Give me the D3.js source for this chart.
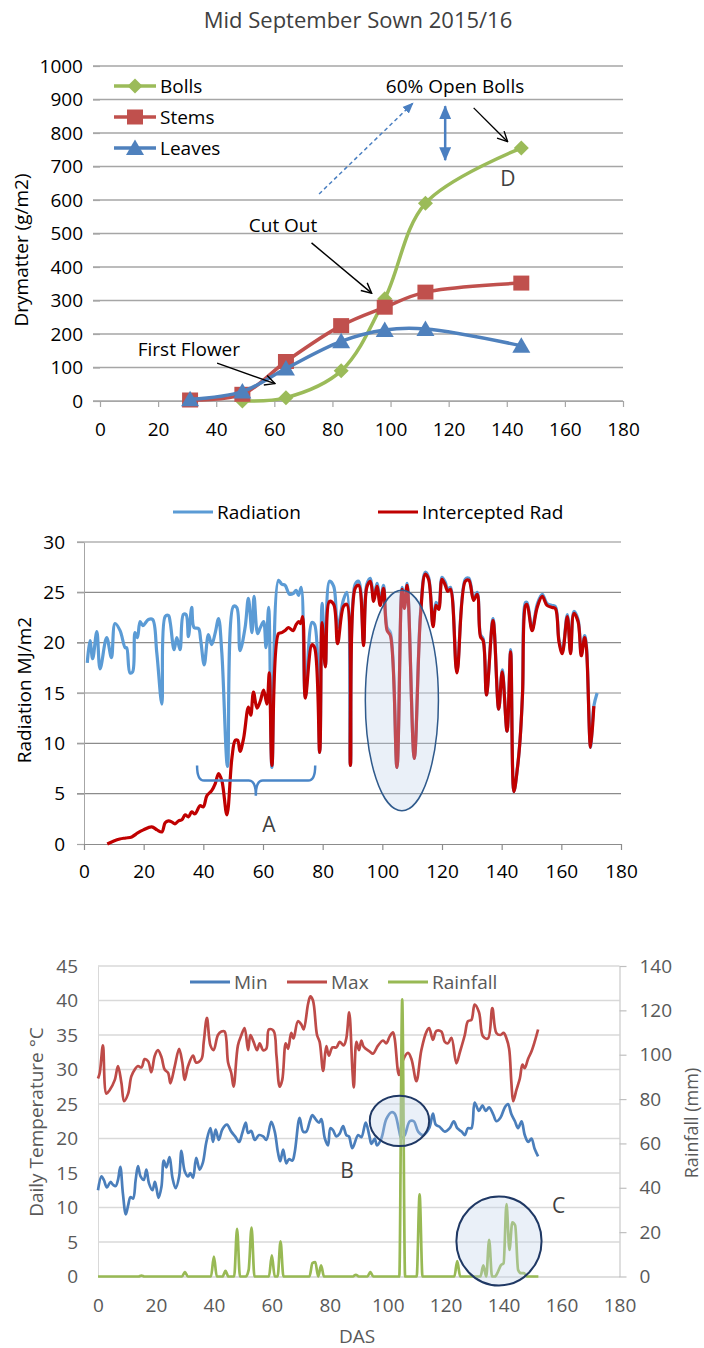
<!DOCTYPE html>
<html>
<head>
<meta charset="utf-8">
<script src="https://cdn.jsdelivr.net/npm/d3@7"></script>
<style>
  body { margin: 0; background: #fff; }
  svg text { font-family: "Open Sans", sans-serif; }
</style>
</head>
<body>
<svg id="chart" width="704" height="1348"></svg>
<script>
// ---------- Panel 1: dry matter partitioning ----------
const harvestDays = [31, 49, 64, 83, 98, 112, 145];
const bolls  = [null, 0, 10, 90, 305, 590, 755];
const stems  = [3, 20, 118, 225, 280, 325, 352];
const leaves = [5, 28, 97, 178, 212, 215, 165];
const dmTicks = d3.range(0, 1001, 100);
const dasTicks = d3.range(0, 181, 20);

// ---------- Panel 2: daily radiation (day, MJ/m2) ----------
const radiation = [
  [1.1,18],[2,20.2],[2.9,18.4],[4.3,21.1],[5.4,17.4],[7.6,20.5],[9.2,18.5],[10.4,21.9],[12.1,21.2],
  [13.8,19.5],[14.3,19.5],[15.4,17],[16.3,17.1],[17.1,21],[17.9,20.5],[18.8,22.1],[19.7,21.7],
  [21.6,22.3],[23,22.3],[24.4,19],[26.1,13.9],[27.2,22.6],[28.3,22.7],[28.9,22],[30.2,19.3],
  [31.1,20.5],[32.2,19.3],[33.3,22.8],[34.2,22.8],[35,20.6],[36.1,23.5],[36.9,21.5],[38.4,21.4],
  [39.1,20.3],[40.3,17.8],[41.7,20.8],[42.8,19.8],[44,21],[45.1,22.4],[46.2,19],[48.1,7.7],
  [50.1,23.6],[51.2,23.5],[52.3,19.2],[54,21.5],[55.1,24.4],[56.3,21],[57,24.6],[58.2,20.9],
  [59.1,21.5],[60.2,22.1],[61,19.5],[61.9,23.5],[63,7.6],[65.2,26.2],[66.3,25.8],[67.4,25.7],
  [68.9,24.8],[70.2,24.9],[71.1,25.2],[71.9,24.7],[72.8,25.5],[74.2,14.6],[76.4,22],[77.3,21.8],
  [79,9.1],[79.8,23.9],[80.9,17.7],[82.3,26.1],[83.7,25.6],[85,21.5],[87,24.3],[88.1,25],
  [89.3,7.8],[90.9,25.8],[92.1,26.1],[93.7,20],[94.8,25.8],[96,26.4],[97.1,24.4],[98.2,25.9],
  [99.3,24],[100.4,25.7],[101.6,21.5],[102.7,21],[104.9,7.6],[106.6,25.5],[107.4,23.6],[108.3,25.9],
  [110.7,8.5],[112.8,23],[114.4,27],[115.5,26.5],[117,21.8],[118,24],[118.9,23.6],[120,26.5],
  [121.1,26],[121.9,25.3],[122.8,25.5],[125,17.2],[127.8,26.3],[129,26.4],[130.6,24.4],[131.8,25],
  [132.9,20.8],[133.8,20.4],[134.9,14.8],[137.1,22.4],[139,13.4],[140.2,17.3],[141.8,11.2],[143,19.3],
  [144.1,5.2],[145.3,7.6],[146.2,10.5],[147,15],[148,24],[148.5,24],[150.2,21.4],[151.9,23.8],
  [153.6,24.8],[155.2,23.9],[156.9,23.7],[158,23.6],[159.2,20.3],[160.3,19.1],[162,22.8],[163.1,19.1],
  [164.2,23.1],[165.6,22.3],[166.7,18.9],[167.8,20.7],[168.4,19.7],[169.8,9.6],[170.9,13.7],[172,15]
];
const intercepted = [
  [7.8,0],[10,0.3],[12,0.5],[14,0.6],[16,0.7],[18,1.1],[19.9,1.4],[22.7,1.7],[24.5,1.4],[26.1,1.2],
  [27.2,2.1],[28.3,2.3],[29.4,2.2],[30.5,2],[31.7,2.3],[32.8,2.4],[33.9,2.9],[35,2.7],[36.1,3.2],
  [37.2,3],[38.9,3.8],[40,3.7],[41.2,4.8],[42.8,5.3],[44,6],[45.1,7],[46.2,6.3],[47.9,2.9],
  [49.6,8.6],[50.7,10.3],[51.5,10.3],[52.3,9.2],[53.5,10.5],[55.1,13.6],[55.9,12.8],[56.8,15.1],
  [58,13.5],[59.1,14.2],[60.2,15.3],[61.3,13.9],[62.1,17],[63,7.8],[65.2,20.9],[66.3,21],[67.4,21.2],
  [68.5,21.5],[70.1,21.2],[71.1,21.8],[72,22.1],[72.6,21.9],[73.3,22.6],[74.2,14.5],[76.4,19.8],
  [77.3,19.5],[79,9.1],[79.8,22],[80.9,17.6],[82.3,24.1],[83.7,23.8],[85,19.9],[87,23.6],[88.1,23.8],
  [89.3,7.8],[90.9,25.4],[92.1,25.7],[93.7,19.7],[94.8,25.5],[96,26.1],[97.1,24.1],[98.2,25.6],
  [99.3,23.7],[100.4,25.4],[101.6,21.2],[102.7,20.7],[104.9,7.6],[106.6,25.3],[107.4,23.4],[108.3,25.7],
  [110.7,8.5],[112.8,22.7],[114.4,26.8],[115.5,26.3],[117,21.6],[118,23.7],[118.9,23.3],[120,26.3],
  [121.1,25.7],[121.9,25.1],[122.8,25.3],[125,17],[127.8,26.1],[129,26.2],[130.6,24.2],[131.8,24.8],
  [132.9,20.6],[133.8,20.2],[134.9,14.8],[137.1,22.2],[139,13.4],[140.2,17.1],[141.8,11.2],[143,19.1],
  [144.1,5.2],[145.3,7.6],[146.2,10.5],[147,15],[148,23.7],[148.5,23.8],[150.2,21.2],[151.9,23.5],
  [153.6,24.6],[155.2,23.7],[156.9,23.5],[158,23.4],[159.2,20.1],[160.3,18.9],[162,22.6],[163.1,18.9],
  [164.2,22.9],[165.6,22.1],[166.7,18.7],[167.8,20.5],[168.4,19.5],[169.8,9.6],[170.9,13.7]
];
const radTicks = d3.range(0, 31, 5);

// ---------- Panel 3: daily temperature (°C) and rainfall (mm) ----------
const minTemp = [
  [0,12.5],[1.2,14.5],[2,14],[3.1,12.9],[4.3,13.7],[5.2,13.3],[6.1,13.1],[6.9,14],[7.7,15.9],[8.6,12],
  [9.6,9],[10.4,10.3],[11.2,11.5],[12.1,11.3],[13,14],[13.8,16],[14.7,14.5],[15.8,14],[16.7,15.5],
  [17.6,13.5],[18.8,12.5],[19.6,13.7],[20.1,13],[20.9,11.4],[21.9,13],[22.7,16.8],[23.6,15.8],
  [24.7,17.3],[25.7,14.3],[26.8,12.8],[28,14.5],[28.8,18.2],[29.9,15.3],[31.1,14.5],[31.9,15],
  [32.8,14.3],[33.9,17.2],[35.1,15.5],[36.2,16.5],[37.4,19.5],[38.8,21.5],[39.7,19.5],[40.6,21.3],
  [41.7,19.8],[42.9,21.3],[44.5,22],[46,21],[47.5,20.2],[48.7,19.5],[49.8,20.8],[51,22.3],[51.8,20.8],
  [52.9,21.1],[54.1,19.8],[55.6,20.5],[57,20.3],[58.1,19.8],[59.8,22.4],[61,21],[62.1,18],[62.9,16.7],
  [63.9,18.4],[65,16.4],[65.9,17],[67.1,16.8],[67.9,18],[69.6,23],[70.8,21],[71.9,21],[73.1,22.5],
  [74,23.4],[75.1,22.8],[76.3,22.3],[77.1,22.8],[78.3,20],[79.4,19],[80.2,21.5],[81.1,21.2],[82.3,20.3],
  [83.4,20.7],[84.6,21.8],[85.7,20.5],[86.6,20.3],[87.8,18.6],[89.8,20.5],[90.9,20.2],[92.4,22.3],
  [93.6,20.5],[94.4,19.2],[95.5,20],[96.3,19],[97.8,20],[99.5,22.8],[101.3,23.8],[102.4,23.6],
  [103.9,21.2],[104.7,20],[105.9,20.5],[107.6,22.5],[109,22.5],[110.5,21],[112.2,20.5],[114.3,21.5],
  [115.6,23.6],[116.6,22],[117.9,21.7],[119.7,21],[121.4,21.5],[122.8,22.5],[124,21.5],[125.5,21],
  [126.6,20.5],[127.7,21.5],[128.9,21.5],[130,25.2],[131.5,24],[132.7,24.8],[133.8,24],[135,24.5],
  [136.4,23.5],[137.5,22.5],[138.9,23],[140.4,24.5],[141.5,25],[142.7,23.5],[143.9,22.5],[145,21.5],
  [146.2,22.5],[147.3,20.5],[148.5,19.5],[149.6,20],[150.7,18.5],[151.9,17.4]
];
const maxTemp = [
  [0,28.7],[0.6,29.5],[1.7,33.5],[2.9,26.5],[4,27],[5.8,28.5],[6.9,30.5],[8.1,28],[9,25.4],[10.4,26.5],
  [11.5,29],[12.7,30],[13.8,30.5],[15,30.3],[16.1,31.5],[17.3,31.2],[18.4,29.6],[19.6,32],[20.7,32.8],
  [21.9,31.8],[23,30],[24.2,29.5],[25,28],[26.5,30.5],[28,33],[29.1,31],[29.9,28.5],[31.1,30.5],
  [32.8,32],[33.9,31],[35.7,31.5],[36.5,34],[37.6,37.5],[38.8,33.5],[39.9,32.8],[41.4,35],[42.6,35.5],
  [43.7,35.5],[44.9,31],[46,29.5],[46.8,27.5],[48.3,33.5],[49.5,35],[50.6,36],[51.8,32.8],[52.6,35],
  [53.7,34],[54.9,32.8],[55.8,33.8],[57,32.8],[58.1,33],[59,35.8],[60.6,35.6],[61.6,32],[62.7,27.5],
  [63.6,28.5],[64.8,33.8],[65.6,33],[66.7,35.3],[67.5,34.5],[69,37],[70.2,36.5],[71,35.8],[72.5,39.5],
  [73.3,40.6],[74.2,40],[75.6,35],[76.5,34],[77.7,29.8],[78.8,33.4],[79.7,32],[80.9,33.2],[82.3,33.2],
  [83.4,34],[84.8,33.5],[85.7,34.5],[86.7,38.3],[87.8,30],[88.3,27.4],[89.2,34],[90.1,32.8],[90.9,34.2],
  [91.7,33.3],[93.8,32.6],[94.9,32.3],[96.7,33.5],[98.4,34.2],[99.5,33.8],[100.7,34.8],[101.8,35.4],
  [102.4,34.5],[103.9,29.2],[105.3,31.4],[107,32.4],[108.2,31.5],[109.9,28.3],[111.6,32.8],[113.4,35.5],
  [114.3,36],[115.6,34.3],[116.8,35.6],[118.5,35.5],[119.7,34],[120.8,33.8],[122,34.6],[123.7,30.9],
  [124.9,32.5],[126.6,35],[127.7,37],[128.9,37.2],[130,39.4],[131.5,38.3],[132.9,34.8],[134.6,34.5],
  [136.1,38.9],[137.5,35.3],[138.9,35],[140,35.3],[141,34.5],[141.9,33],[142.7,28],[143.3,25.4],
  [144.4,27],[145.6,28.7],[146.5,30.7],[147.3,30.2],[148.4,31.5],[149.6,32.6],[150.7,34],[151.9,35.8]
];
const rainfall = [
  [0,0],[14,0],[15,0.4],[16,0],[29,0],[30,2],[31,0],[39,0],[40,9],[41,0],[43,0],[44,2.5],[45,0],
  [47,0],[48,21.5],[49,0],[51,0],[52,3],[53,22],[54,0],[59,0],[60,9.5],[61,0],[62,0],[63,15.8],[64,0],
  [73,0],[74,6],[75,6.5],[76,0],[77,5],[78,0],[88,0],[89,0.8],[90,0],[93,0],[94,2],[95,0],[104,0],
  [105,125],[106,0],[110,0],[111,37],[112,0],[123,0],[124,7],[125,0],[132,0],[133,5],[134,0],
  [135,16.5],[136,0],[137,0],[138,2],[139,5],[140,6],[141,32.6],[142,12],[143,24.4],[144,23],
  [145,3],[146,1.5],[147,1.5],[148,0],[152,0]
];
const tempTicks = d3.range(0, 46, 5);
const rainTicks = d3.range(0, 141, 20);

const FONT = '"Open Sans", sans-serif';
const FS = 19;
const svg = d3.select("#chart");
const defs = svg.append("defs");

// arrow heads
defs.append("marker").attr("id", "openHead")
  .attr("viewBox", "0 0 12 12").attr("refX", 11).attr("refY", 6)
  .attr("markerWidth", 12).attr("markerHeight", 12)
  .attr("markerUnits", "userSpaceOnUse").attr("orient", "auto")
  .append("path").attr("d", "M1,1 L11,6 L1,11")
  .attr("fill", "none").attr("stroke", "#000").attr("stroke-width", 1.4);
defs.append("marker").attr("id", "blueHead")
  .attr("viewBox", "0 0 12 10").attr("refX", 11).attr("refY", 5)
  .attr("markerWidth", 11).attr("markerHeight", 10)
  .attr("markerUnits", "userSpaceOnUse").attr("orient", "auto")
  .append("path").attr("d", "M0,0 L12,5 L0,10 Z").attr("fill", "#4a7fc1");
defs.append("marker").attr("id", "blueHeadBig")
  .attr("viewBox", "0 0 14 12").attr("refX", 13).attr("refY", 6)
  .attr("markerWidth", 14).attr("markerHeight", 12)
  .attr("markerUnits", "userSpaceOnUse").attr("orient", "auto-start-reverse")
  .append("path").attr("d", "M0,0 L14,6 L0,12 Z").attr("fill", "#4a7fc1");

function txt(g, x, y, s, opts = {}) {
  const t = g.append("text").attr("x", x).attr("y", y).text(s)
    .attr("font-size", opts.size || FS).attr("fill", opts.color || "#000")
    .attr("text-anchor", opts.anchor || "middle")
    .attr("dominant-baseline", opts.baseline || "central");
  if (opts.rotate) t.attr("transform", `rotate(${opts.rotate},${x},${y})`);
  return t;
}
function fixAxis(g, color, textColor) {
  g.attr("font-family", FONT).attr("font-size", FS);
  g.selectAll("path.domain").attr("stroke", color);
  g.selectAll(".tick line").attr("stroke", color).attr("stroke-width", 1.2);
  g.selectAll("text").attr("fill", textColor);
}
const intFmt = d3.format("d");

// ================= Panel 1 =================
{
  const x = d3.scaleLinear().domain([0, 180]).range([100, 623]);
  const y = d3.scaleLinear().domain([0, 1000]).range([401, 66]);
  const g = svg.append("g");
  const grid = "#a6a6a6";

  txt(g, 358, 19, "Mid September Sown 2015/16", { size: 22, color: "#404040" });

  g.append("g").selectAll("line").data(dmTicks).join("line")
    .attr("x1", x(0) - 7).attr("x2", x(180))
    .attr("y1", d => y(d)).attr("y2", d => y(d))
    .attr("stroke", grid).attr("stroke-width", 1.3);

  const ya = g.append("g").attr("transform", `translate(${x(0)},0)`)
    .call(d3.axisLeft(y).tickValues(dmTicks).tickFormat(intFmt).tickSize(7).tickPadding(10));
  ya.select("path.domain").remove();
  fixAxis(ya, grid, "#000");

  const xa = g.append("g").attr("transform", `translate(0,${y(0)})`)
    .call(d3.axisBottom(x).tickValues(dasTicks).tickFormat(intFmt).tickSize(6).tickPadding(16).tickSizeOuter(0));
  fixAxis(xa, grid, "#000");

  txt(g, 21, 250, "Drymatter (g/m2)", { rotate: -90 });

  const curve = d3.curveCatmullRom.alpha(0.5);
  const series = [
    { name: "Bolls", vals: bolls, color: "#9bbb59", shape: "diamond" },
    { name: "Stems", vals: stems, color: "#c0504d", shape: "square" },
    { name: "Leaves", vals: leaves, color: "#4f81bd", shape: "triangle" }
  ];
  const shapePath = {
    diamond: "M0,-7.5 L7.5,0 L0,7.5 L-7.5,0 Z",
    square: "M-8,-7.5 L8,-7.5 L8,7.5 L-8,7.5 Z",
    triangle: "M0,-8.5 L9,7 L-9,7 Z"
  };
  series.forEach(s => {
    const pts = harvestDays.map((d, i) => [d, s.vals[i]]).filter(p => p[1] != null);
    g.append("path").datum(pts)
      .attr("d", d3.line().x(p => x(p[0])).y(p => y(p[1])).curve(curve))
      .attr("fill", "none").attr("stroke", s.color).attr("stroke-width", 3.5);
    g.append("g").selectAll("path").data(pts).join("path")
      .attr("transform", p => `translate(${x(p[0])},${y(p[1])})`)
      .attr("d", shapePath[s.shape]).attr("fill", s.color);
  });

  // legend
  series.forEach((s, i) => {
    const ly = 86 + i * 31;
    g.append("line").attr("x1", 114).attr("x2", 156).attr("y1", ly).attr("y2", ly)
      .attr("stroke", s.color).attr("stroke-width", 3.5);
    g.append("path").attr("transform", `translate(135,${ly})`).attr("d", shapePath[s.shape]).attr("fill", s.color);
    txt(g, 160, ly, s.name, { anchor: "start" });
  });

  // annotations
  txt(g, x(122.2), y(940), "60% Open Bolls");
  g.append("line").attr("x1", x(75.4)).attr("y1", y(618)).attr("x2", x(107.7)).attr("y2", y(889))
    .attr("stroke", "#4a7fc1").attr("stroke-width", 1.5).attr("stroke-dasharray", "4,3")
    .attr("marker-end", "url(#blueHead)");
  g.append("line").attr("x1", x(118.8)).attr("y1", y(880)).attr("x2", x(118.8)).attr("y2", y(719))
    .attr("stroke", "#4a7fc1").attr("stroke-width", 2.5)
    .attr("marker-start", "url(#blueHeadBig)").attr("marker-end", "url(#blueHeadBig)");
  g.append("line").attr("x1", x(128.6)).attr("y1", y(875)).attr("x2", x(140.3)).attr("y2", y(774))
    .attr("stroke", "#000").attr("stroke-width", 1.4).attr("marker-end", "url(#openHead)");
  txt(g, x(140.4), y(665), "D", { size: 21, color: "#404040" });

  txt(g, x(63), y(526), "Cut Out");
  g.append("line").attr("x1", x(72.8)).attr("y1", y(472)).attr("x2", x(93.5)).attr("y2", y(322))
    .attr("stroke", "#000").attr("stroke-width", 1.4).attr("marker-end", "url(#openHead)");

  txt(g, x(30.6), y(155), "First Flower");
  g.append("line").attr("x1", x(40.3)).attr("y1", y(113)).attr("x2", x(60.2)).attr("y2", y(52))
    .attr("stroke", "#000").attr("stroke-width", 1.4).attr("marker-end", "url(#openHead)");
}

// ================= Panel 2 =================
{
  const x = d3.scaleLinear().domain([0, 180]).range([84, 621]);
  const y = d3.scaleLinear().domain([0, 30]).range([844, 542]);
  const g = svg.append("g");
  const grid = "#8c8c8c";

  g.append("g").selectAll("line").data(radTicks.filter(d => d > 0)).join("line")
    .attr("x1", x(0) - 7).attr("x2", x(180))
    .attr("y1", d => y(d)).attr("y2", d => y(d))
    .attr("stroke", grid).attr("stroke-width", 1.2);

  const ya = g.append("g").attr("transform", `translate(${x(0)},0)`)
    .call(d3.axisLeft(y).tickValues(radTicks).tickSize(7).tickPadding(12).tickSizeOuter(0));
  fixAxis(ya, "#a6a6a6", "#000");

  const xa = g.append("g").attr("transform", `translate(0,${y(0)})`)
    .call(d3.axisBottom(x).tickValues(dasTicks).tickSize(6).tickPadding(15).tickSizeOuter(0));
  fixAxis(xa, grid, "#000");

  txt(g, 24, 690, "Radiation MJ/m2", { rotate: -90 });

  const line = d3.line().x(p => x(p[0])).y(p => y(p[1])).curve(d3.curveCatmullRom.alpha(0.5));
  g.append("path").datum(radiation).attr("d", line)
    .attr("fill", "none").attr("stroke", "#5b9bd5").attr("stroke-width", 3.2);
  g.append("path").datum(intercepted).attr("d", line)
    .attr("fill", "none").attr("stroke", "#c00000").attr("stroke-width", 3.2);

  // legend
  g.append("line").attr("x1", 173).attr("x2", 213).attr("y1", 512).attr("y2", 512)
    .attr("stroke", "#5b9bd5").attr("stroke-width", 3);
  txt(g, 217, 512, "Radiation", { anchor: "start" });
  g.append("line").attr("x1", 378).attr("x2", 418).attr("y1", 512).attr("y2", 512)
    .attr("stroke", "#c00000").attr("stroke-width", 3);
  txt(g, 422, 512, "Intercepted Rad", { anchor: "start" });

  // shaded ellipse over the run of overcast days
  const ex0 = x(94.3), ex1 = x(118.8), ey0 = y(25.2), ey1 = y(3.3);
  g.append("ellipse")
    .attr("cx", (ex0 + ex1) / 2).attr("cy", (ey0 + ey1) / 2)
    .attr("rx", (ex1 - ex0) / 2).attr("ry", (ey1 - ey0) / 2)
    .attr("fill", "#c3d3ea").attr("fill-opacity", 0.35)
    .attr("stroke", "#2f5a8c").attr("stroke-width", 1.5);

  // bracket A
  const bl = x(37.9), br = x(77.5), bm = x(57.6);
  const bt = y(7.8), bh = y(6.3), bb = y(4.8);
  g.append("path")
    .attr("d", `M${bl},${bt} Q${bl},${bh} ${bl + 7},${bh} L${bm - 7},${bh} Q${bm},${bh} ${bm},${bb}
                Q${bm},${bh} ${bm + 7},${bh} L${br - 7},${bh} Q${br},${bh} ${br},${bt}`)
    .attr("fill", "none").attr("stroke", "#4a86c8").attr("stroke-width", 2.5);
  txt(g, x(62), y(2.0), "A", { size: 21, color: "#404040" });
}

// ================= Panel 3 =================
{
  const x = d3.scaleLinear().domain([0, 180]).range([98, 619.5]);
  const y = d3.scaleLinear().domain([0, 45]).range([1276.5, 966]);
  const yr = d3.scaleLinear().domain([0, 140]).range([1276.5, 966]);
  const g = svg.append("g");
  const grid = "#d9d9d9";
  const labelColor = "#595959";

  g.append("g").selectAll("line").data(tempTicks.filter(d => d > 0)).join("line")
    .attr("x1", x(0)).attr("x2", x(180))
    .attr("y1", d => y(d)).attr("y2", d => y(d))
    .attr("stroke", grid).attr("stroke-width", 1.3);

  const ya = g.append("g").attr("transform", `translate(${x(0)},0)`)
    .call(d3.axisLeft(y).tickValues(tempTicks).tickSize(0).tickPadding(20).tickSizeOuter(0));
  fixAxis(ya, grid, labelColor);

  const yra = g.append("g").attr("transform", `translate(${x(180)},0)`)
    .call(d3.axisRight(yr).tickValues(rainTicks).tickSize(7).tickPadding(13).tickSizeOuter(0));
  fixAxis(yra, "#bfbfbf", labelColor);

  const xa = g.append("g").attr("transform", `translate(0,${y(0)})`)
    .call(d3.axisBottom(x).tickValues(dasTicks).tickSize(0).tickPadding(22).tickSizeOuter(0));
  fixAxis(xa, "#bfbfbf", labelColor);

  txt(g, 36, 1122, "Daily Temperature °C", { rotate: -90, color: labelColor });
  txt(g, 691, 1123, "Rainfall (mm)", { rotate: -90, color: labelColor, size: 18 });
  txt(g, 357, 1336, "DAS", { color: labelColor });

  const tline = d3.line().x(p => x(p[0])).y(p => y(p[1])).curve(d3.curveCatmullRom.alpha(0.5));
  g.append("path").datum(minTemp).attr("d", tline)
    .attr("fill", "none").attr("stroke", "#4a7ebb").attr("stroke-width", 2.7);
  g.append("path").datum(maxTemp).attr("d", tline)
    .attr("fill", "none").attr("stroke", "#be4b48").attr("stroke-width", 2.7);
  g.append("path").datum(rainfall)
    .attr("d", d3.line().x(p => x(p[0])).y(p => yr(p[1])).curve(d3.curveMonotoneX))
    .attr("fill", "none").attr("stroke", "#98b954").attr("stroke-width", 2.7);

  // legend
  [["Min", "#4a7ebb", 190], ["Max", "#be4b48", 287], ["Rainfall", "#98b954", 388]].forEach(([n, c, lx]) => {
    g.append("line").attr("x1", lx).attr("x2", lx + 40).attr("y1", 982).attr("y2", 982)
      .attr("stroke", c).attr("stroke-width", 3);
    txt(g, lx + 44, 982, n, { anchor: "start", color: labelColor });
  });

  // highlighted regions
  const e1 = [x(93.8), x(114.3), y(26.2), y(18.9)];
  g.append("ellipse")
    .attr("cx", (e1[0] + e1[1]) / 2).attr("cy", (e1[2] + e1[3]) / 2)
    .attr("rx", (e1[1] - e1[0]) / 2).attr("ry", (e1[3] - e1[2]) / 2)
    .attr("fill", "#c3d3ea").attr("fill-opacity", 0.35)
    .attr("stroke", "#1f3864").attr("stroke-width", 2);
  const e2 = [x(123.7), x(153.1), y(11.6), y(-1.3)];
  g.append("ellipse")
    .attr("cx", (e2[0] + e2[1]) / 2).attr("cy", (e2[2] + e2[3]) / 2)
    .attr("rx", (e2[1] - e2[0]) / 2).attr("ry", (e2[3] - e2[2]) / 2)
    .attr("fill", "#c3d3ea").attr("fill-opacity", 0.35)
    .attr("stroke", "#1f3864").attr("stroke-width", 2);
  txt(g, x(86), y(15.4), "B", { size: 21, color: "#404040" });
  txt(g, x(159), y(10.3), "C", { size: 21, color: "#404040" });
}
</script>
</body>
</html>
